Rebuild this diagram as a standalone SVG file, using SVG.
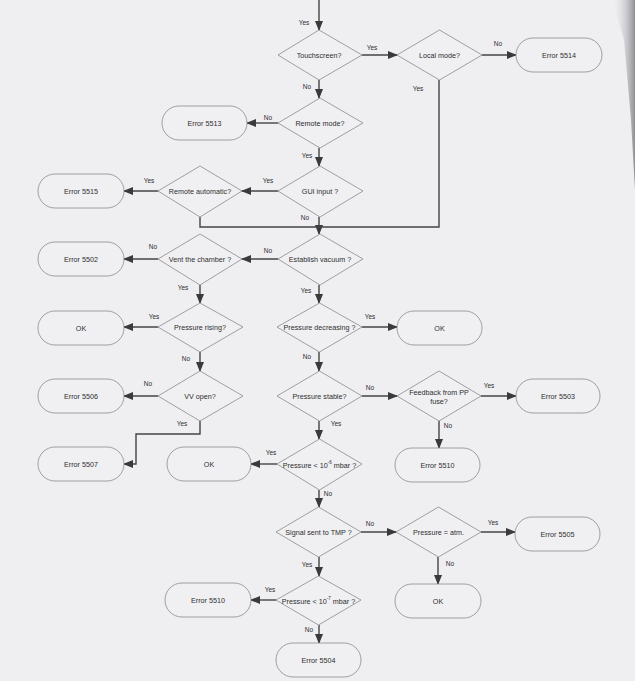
<svg xmlns="http://www.w3.org/2000/svg" width="635" height="681" viewBox="0 0 635 681">
<defs>
<marker id="ah" markerUnits="userSpaceOnUse" markerWidth="10" markerHeight="8" refX="9" refY="4" orient="auto"><path d="M0,0 L10,4 L0,8 Z" fill="#3a3a3a"/></marker>
<linearGradient id="edge" x1="0" y1="0" x2="1" y2="0"><stop offset="0" stop-color="#efeff2" stop-opacity="0"/><stop offset="1" stop-color="#8e8e94"/></linearGradient>
</defs>
<style>
.d{fill:#f0f0f3;stroke:#8a8a8e;stroke-width:0.8}
.r{fill:#f0f0f3;stroke:#8a8a8e;stroke-width:0.8}
.t{font-family:"Liberation Sans",Arial,sans-serif;font-size:7.2px;fill:#2e2e2e;text-anchor:middle;dominant-baseline:central}
.l{font-family:"Liberation Sans",Arial,sans-serif;font-size:6.5px;fill:#2e2e2e;text-anchor:middle}
.c{fill:none;stroke:#444;stroke-width:1.4}
.a{marker-end:url(#ah)}
</style>
<rect width="635" height="681" fill="#efeff2"/>
<polygon points="612,0 635,0 635,190 631,120 624,40" fill="url(#edge)"/>

<g id="connectors">
<path class="c a" d="M319,0 V30"/>
<path class="c a" d="M362,55 H397"/>
<path class="c a" d="M482,55 H516"/>
<path class="c a" d="M319,80 V98"/>
<path class="c a" d="M278,123 H247"/>
<path class="c a" d="M319,148 V166"/>
<path class="c a" d="M278,191 H242"/>
<path class="c a" d="M158,191 H124"/>
<path class="c a" d="M319,217 V234"/>
<path class="c" d="M200,217 V227 H439 V80"/>
<path class="c a" d="M278,259 H242"/>
<path class="c a" d="M158,259 H124"/>
<path class="c a" d="M200,285 V303"/>
<path class="c a" d="M319,285 V303"/>
<path class="c a" d="M158,327 H124"/>
<path class="c a" d="M200,352 V371"/>
<path class="c a" d="M158,396 H124"/>
<path class="c a" d="M200,421 V434 H136 V464 H124"/>
<path class="c a" d="M362,327 H397"/>
<path class="c a" d="M319,352 V371"/>
<path class="c a" d="M362,396 H397"/>
<path class="c a" d="M481,396 H516"/>
<path class="c a" d="M439,421 V448"/>
<path class="c a" d="M319,421 V439"/>
<path class="c a" d="M277,464 H251"/>
<path class="c a" d="M319,490 V507"/>
<path class="c a" d="M361,532 H396"/>
<path class="c a" d="M481,532 H515"/>
<path class="c a" d="M438,557 V584"/>
<path class="c a" d="M319,557 V576"/>
<path class="c a" d="M276,600 H251"/>
<path class="c a" d="M319,625 V643"/>
<g>
<text class="l" x="304" y="25">Yes</text>
<text class="l" x="372" y="50">Yes</text>
<text class="l" x="498" y="46">No</text>
<text class="l" x="307" y="89">No</text>
<text class="l" x="418" y="91">Yes</text>
<text class="l" x="268" y="120">No</text>
<text class="l" x="307" y="158">Yes</text>
<text class="l" x="268" y="183">Yes</text>
<text class="l" x="149" y="183">Yes</text>
<text class="l" x="305" y="220">No</text>
<text class="l" x="268" y="253">No</text>
<text class="l" x="153" y="249">No</text>
<text class="l" x="183" y="290">Yes</text>
<text class="l" x="306" y="293">Yes</text>
<text class="l" x="154" y="319">Yes</text>
<text class="l" x="370" y="319">Yes</text>
<text class="l" x="186" y="361">No</text>
<text class="l" x="307" y="359">No</text>
<text class="l" x="148" y="386">No</text>
<text class="l" x="370" y="390">No</text>
<text class="l" x="489" y="388">Yes</text>
<text class="l" x="182" y="426">Yes</text>
<text class="l" x="336" y="426">Yes</text>
<text class="l" x="448" y="428">No</text>
<text class="l" x="271" y="455">Yes</text>
<text class="l" x="328" y="496">No</text>
<text class="l" x="370" y="526">No</text>
<text class="l" x="493" y="525">Yes</text>
<text class="l" x="450" y="566">No</text>
<text class="l" x="307" y="567">Yes</text>
<text class="l" x="270" y="592">Yes</text>
<text class="l" x="309" y="632">No</text>
</g>
</g>

<g id="touchscreen"><polygon class="d" points="319,30 362,55 319,80 278,55"/><text class="t" x="319" y="55">Touchscreen?</text></g>
<g id="local-mode"><polygon class="d" points="439.5,30 482,55 439.5,80 397,55"/><text class="t" x="439.5" y="55">Local mode?</text></g>
<g id="error-5514"><rect class="r" x="516" y="38" width="86" height="34" rx="17"/><text class="t" x="559" y="55">Error 5514</text></g>
<g id="remote-mode"><polygon class="d" points="320,98 363,123 320,148 278,123"/><text class="t" x="320" y="123">Remote mode?</text></g>
<g id="error-5513"><rect class="r" x="162" y="106" width="85" height="34" rx="17"/><text class="t" x="204.5" y="123">Error 5513</text></g>
<g id="gui-input"><polygon class="d" points="320,166 363,191 320,217 278,191"/><text class="t" x="320" y="191">GUI input ?</text></g>
<g id="remote-automatic"><polygon class="d" points="200,166 242,191 200,217 158,191"/><text class="t" x="200" y="191">Remote automatic?</text></g>
<g id="error-5515"><rect class="r" x="38" y="174" width="86" height="34" rx="17"/><text class="t" x="81" y="191">Error 5515</text></g>
<g id="establish-vacuum"><polygon class="d" points="320,234 363,259 320,285 278,259"/><text class="t" x="320" y="259">Establish vacuum ?</text></g>
<g id="vent-chamber"><polygon class="d" points="200,234 242,259 200,285 158,259"/><text class="t" x="200" y="259">Vent the chamber ?</text></g>
<g id="error-5502"><rect class="r" x="38" y="242" width="86" height="34" rx="17"/><text class="t" x="81" y="259">Error 5502</text></g>
<g id="pressure-rising"><polygon class="d" points="200,303 243,327 200,352 158,327"/><text class="t" x="200" y="327">Pressure rising?</text></g>
<g id="ok-1"><rect class="r" x="38" y="311" width="86" height="34" rx="17"/><text class="t" x="81" y="328">OK</text></g>
<g id="vv-open"><polygon class="d" points="200,371 243,396 200,421 158,396"/><text class="t" x="200" y="396">VV open?</text></g>
<g id="error-5506"><rect class="r" x="38" y="379" width="86" height="34" rx="17"/><text class="t" x="81" y="396">Error 5506</text></g>
<g id="error-5507"><rect class="r" x="38" y="447" width="86" height="34" rx="17"/><text class="t" x="81" y="464">Error 5507</text></g>
<g id="pressure-decreasing"><polygon class="d" points="319.5,303 362,327 319.5,352 277,327"/><text class="t" x="319.5" y="327">Pressure decreasing ?</text></g>
<g id="ok-2"><rect class="r" x="397" y="311" width="85" height="34" rx="17"/><text class="t" x="439.5" y="328">OK</text></g>
<g id="pressure-stable"><polygon class="d" points="319.5,371 362,396 319.5,421 277,396"/><text class="t" x="319.5" y="396">Pressure stable?</text></g>
<g id="feedback-pp-fuse"><polygon class="d" points="439,371 481,396 439,421 397,396"/><text class="t" x="439" y="392">Feedback from PP</text><text class="t" x="439" y="401">fuse?</text></g>
<g id="error-5503"><rect class="r" x="516" y="379" width="84" height="34" rx="17"/><text class="t" x="558" y="396">Error 5503</text></g>
<g id="error-5510-right"><rect class="r" x="395" y="448" width="85" height="34" rx="17"/><text class="t" x="437.5" y="465">Error 5510</text></g>
<g id="pressure-1e-6"><polygon class="d" points="319.5,439 362,464 319.5,490 277,464"/><text class="t" x="319.5" y="465">Pressure &lt; 10<tspan font-size="4.5" dy="-3">-6</tspan><tspan dy="3"> mbar ?</tspan></text></g>
<g id="ok-3"><rect class="r" x="167" y="447" width="84" height="34" rx="17"/><text class="t" x="209" y="464">OK</text></g>
<g id="signal-tmp"><polygon class="d" points="318.5,507 361,532 318.5,557 276,532"/><text class="t" x="318.5" y="532">Signal sent to TMP ?</text></g>
<g id="pressure-atm"><polygon class="d" points="438.5,507 481,532 438.5,557 396,532"/><text class="t" x="438.5" y="532">Pressure = atm.</text></g>
<g id="error-5505"><rect class="r" x="515" y="517" width="85" height="34" rx="17"/><text class="t" x="557.5" y="534">Error 5505</text></g>
<g id="ok-4"><rect class="r" x="395" y="584" width="86" height="34" rx="17"/><text class="t" x="438" y="601">OK</text></g>
<g id="pressure-1e-7"><polygon class="d" points="318.5,576 361,600 318.5,625 276,600"/><text class="t" x="318.5" y="601">Pressure &lt; 10<tspan font-size="4.5" dy="-3">-7</tspan><tspan dy="3"> mbar ?</tspan></text></g>
<g id="error-5510-left"><rect class="r" x="165" y="583" width="86" height="34" rx="17"/><text class="t" x="208" y="600">Error 5510</text></g>
<g id="error-5504"><rect class="r" x="276" y="643" width="85" height="34" rx="17"/><text class="t" x="318.5" y="660">Error 5504</text></g>
</svg>
